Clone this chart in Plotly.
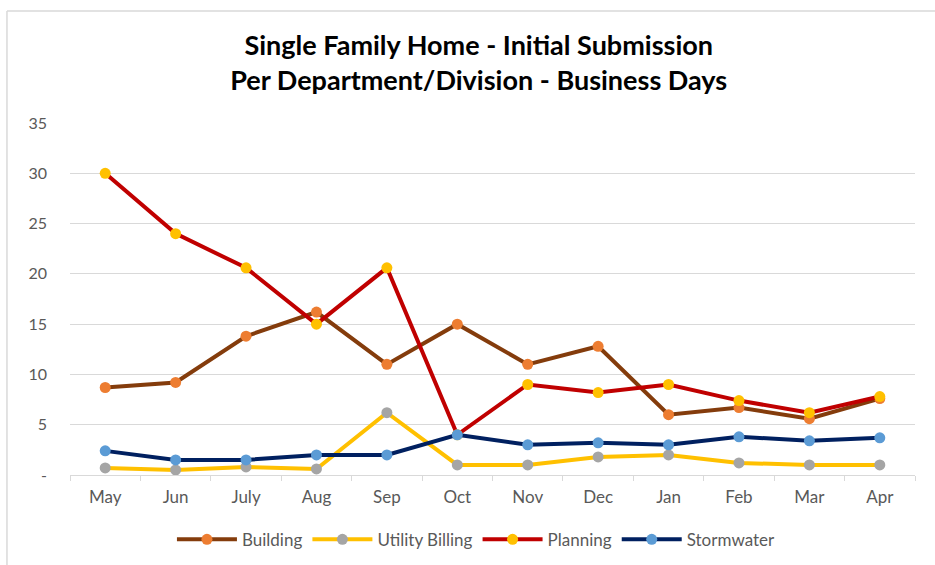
import plotly.graph_objects as go

months = ["May", "Jun", "July", "Aug", "Sep", "Oct", "Nov", "Dec", "Jan", "Feb", "Mar", "Apr"]
building = [8.7, 9.2, 13.8, 16.2, 11.0, 15.0, 11.0, 12.8, 6.0, 6.7, 5.6, 7.6]
utility_billing = [0.7, 0.5, 0.8, 0.6, 6.2, 1.0, 1.0, 1.8, 2.0, 1.2, 1.0, 1.0]
planning = [30.0, 24.0, 20.6, 15.0, 20.6, 4.0, 9.0, 8.2, 9.0, 7.4, 6.2, 7.8]
stormwater = [2.4, 1.5, 1.5, 2.0, 2.0, 4.0, 3.0, 3.2, 3.0, 3.8, 3.4, 3.7]
y_ticks = [0, 5, 10, 15, 20, 25, 30, 35]
y_ticklabels = ["-", "5", "10", "15", "20", "25", "30", "35"]

series = [
    ("Building", building, "#843C0C", "#ED7D31"),
    ("Utility Billing", utility_billing, "#FFC000", "#A5A5A5"),
    ("Planning", planning, "#C00000", "#FFC000"),
    ("Stormwater", stormwater, "#002060", "#5B9BD5"),
]

FONT = "Lato"
fig = go.Figure()
for name, vals, lc, mc in series:
    fig.add_trace(go.Scatter(
        x=months, y=vals, name=name, mode="lines+markers",
        line=dict(color=lc, width=4),
        marker=dict(color=mc, size=11),
    ))

fig.update_layout(
    width=935, height=565,
    margin=dict(l=70, r=20, t=123, b=90, autoexpand=False),
    paper_bgcolor="white", plot_bgcolor="white",
    font=dict(family=FONT, size=14, color="#595959"),
    title=dict(
        text="<b>Single Family Home - Initial Submission<br>Per Department/Division - Business Days</b>",
        x=0.512, xanchor="center", xref="container",
        y=0.902, yanchor="top", yref="container",
        font=dict(family=FONT, size=27, color="#000000"),
        automargin=False,
    ),
    showlegend=True,
    legend=dict(
        orientation="h", x=0.481, xanchor="center", y=-0.184, yanchor="middle",
        font=dict(family=FONT, size=17, color="#595959"),
        itemwidth=60, traceorder="normal",
    ),
    xaxis=dict(
        type="category", range=[-0.5, len(months) - 0.5],
        showgrid=False, showline=True, linecolor="#D9D9D9", linewidth=1,
        ticks="outside", tickson="boundaries", ticklen=5, tickcolor="#D9D9D9",
        ticklabelstandoff=7,
        tickfont=dict(size=17, color="#595959"), zeroline=False, automargin=False,
    ),
    yaxis=dict(
        range=[0, 35], tickvals=y_ticks, ticktext=y_ticklabels,
        showgrid=True, gridcolor="#D9D9D9", gridwidth=1, zeroline=False,
        showline=False, ticks="", ticklabelstandoff=22, automargin=False,
        tickfont=dict(size=16, color="#595959"),
    ),
    shapes=[
        dict(type="line", xref="paper", yref="paper", x0=-0.0746, x1=1.15, y0=1.318, y1=1.318,
             line=dict(color="#D9D9D9", width=1.5)),
        dict(type="line", xref="paper", yref="paper", x0=-0.0746, x1=-0.0746, y0=1.318, y1=-0.26,
             line=dict(color="#D9D9D9", width=1.5)),
    ],
)

fig.write_html("out.html", config={"displayModeBar": False},
               post_script="document.body.style.margin='0';")
